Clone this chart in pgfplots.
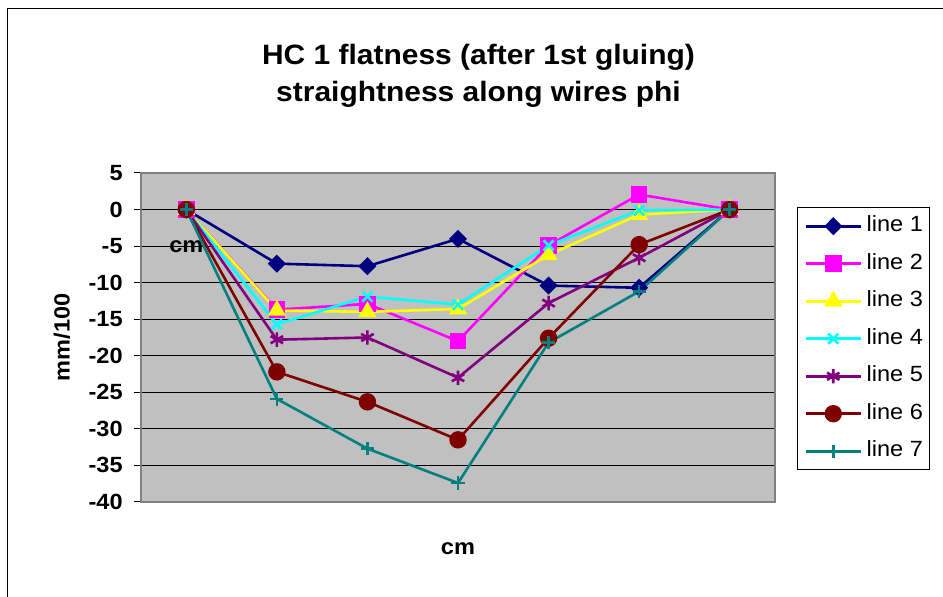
\documentclass[border=0pt]{standalone}
\usepackage{fontspec}
\setmainfont{Liberation Sans}[FakeStretch=1.07]
\usepackage{pgfplots}
\pgfplotsset{compat=1.18}
\definecolor{c1}{HTML}{000080}
\definecolor{c2}{HTML}{FF00FF}
\definecolor{c3}{HTML}{FFFF00}
\definecolor{c4}{HTML}{00FFFF}
\definecolor{c5}{HTML}{800080}
\definecolor{c6}{HTML}{800000}
\definecolor{c7}{HTML}{008080}
\definecolor{plotbg}{HTML}{C0C0C0}
\definecolor{axgray}{HTML}{808080}
\newcommand{\tfont}{\fontsize{11}{13}\selectfont}
\begin{document}
\begin{tikzpicture}
\path[use as bounding box] (0,0) rectangle (471.5pt,-298.5pt);
\draw[line width=0.6pt] (3.6pt,-298.5pt) -- (3.6pt,-4.1pt) -- (471.5pt,-4.1pt);
\node[anchor=base, font=\fontsize{14}{16}\selectfont\bfseries] at (239.25pt,-32.5pt) {HC 1 flatness (after 1st gluing)};
\node[anchor=base, font=\fontsize{14}{16}\selectfont\bfseries] at (239.25pt,-51pt) {straightness along wires phi};
\begin{axis}[
  at={(70.5pt,-251pt)}, anchor=south west,
  scale only axis, width=317pt, height=164.5pt,
  xmin=0.5, xmax=7.5, ymin=-40, ymax=5,
  xtick=\empty,
  ytick={-40,-35,...,5},
  ytick pos=left,
  tick align=outside,
  major tick length=3.5pt,
  every tick/.style={black, line width=0.5pt},
  ymajorgrids,
  grid style={black, line width=0.5pt},
  axis background/.style={fill=plotbg},
  axis line style={axgray, line width=1pt},
  /pgf/number format/assume math mode=true,
  yticklabel style={font=\tfont\bfseries, anchor=east, inner sep=0pt, xshift=-5.5pt},
  ylabel={mm/100},
  ylabel style={font=\tfont\bfseries, at={(axis description cs:-0.125,0.5)}, anchor=center},
  xlabel={cm},
  xlabel style={font=\tfont\bfseries, at={(axis description cs:0.5,-0.159)}, anchor=base},
  legend style={at={(1.0347,0.8967)}, anchor=north west, draw=black, line width=0.5pt, fill=white,
    font=\tfont, inner xsep=3.5pt, inner ysep=0pt, row sep=0pt,
    nodes={inner sep=0pt, text height=12.2pt, text depth=6.55pt}},
  legend cell align=left,
  legend image code/.code={\draw[mark repeat=2,mark phase=2,#1] plot coordinates {(0pt,0pt)(13.75pt,0pt)(27.5pt,0pt)}; \path (29.8pt,0pt);},
  clip=false,
]
\node[font=\tfont\bfseries, anchor=base] at (axis cs:1,-5.92) {cm};
\addplot[c1, line width=1.3pt, mark=diamond*, mark size=3.6pt, mark options={xscale=1.33}] coordinates {(1,0)(2,-7.4)(3,-7.75)(4,-4.0)(5,-10.4)(6,-10.7)(7,0)};
\addlegendentry{line 1}
\addplot[c2, line width=1.3pt, mark=square*, mark size=3.5pt] coordinates {(1,0)(2,-13.7)(3,-12.9)(4,-18.0)(5,-4.9)(6,2.05)(7,0)};
\addlegendentry{line 2}
\addplot[c3, line width=1.3pt, mark=triangle*, mark size=4pt] coordinates {(1,0)(2,-13.8)(3,-14.0)(4,-13.6)(5,-6.2)(6,-0.7)(7,0)};
\addlegendentry{line 3}
\addplot[c4, line width=1.3pt, mark=x, mark size=3.6pt] coordinates {(1,0)(2,-15.7)(3,-11.9)(4,-13.0)(5,-4.9)(6,-0.1)(7,0)};
\addlegendentry{line 4}
\addplot[c5, line width=1.3pt, mark=asterisk, mark size=3.6pt] coordinates {(1,0)(2,-17.8)(3,-17.5)(4,-23.0)(5,-12.8)(6,-6.6)(7,0)};
\addlegendentry{line 5}
\addplot[c6, line width=1.3pt, mark=*, mark size=3.7pt] coordinates {(1,0)(2,-22.2)(3,-26.3)(4,-31.5)(5,-17.6)(6,-4.8)(7,0)};
\addlegendentry{line 6}
\addplot[c7, line width=1.3pt, mark=+, mark size=3.3pt] coordinates {(1,0)(2,-25.9)(3,-32.7)(4,-37.4)(5,-18.2)(6,-11.2)(7,0)};
\addlegendentry{line 7}
\end{axis}
\end{tikzpicture}
\end{document}
